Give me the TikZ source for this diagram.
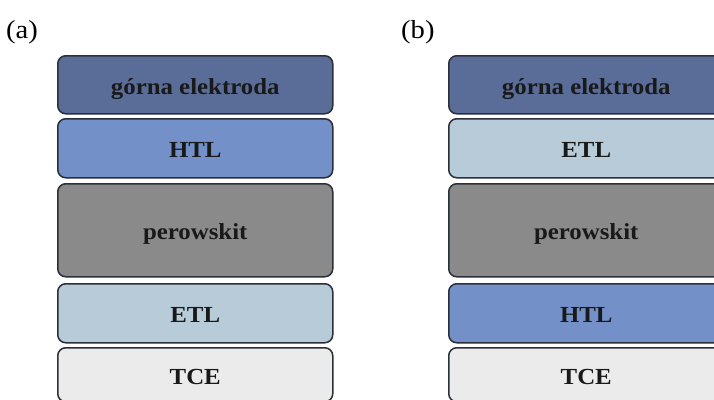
\documentclass[tikz,border=0pt]{standalone}
\usepackage{fontspec}
\setmainfont{Liberation Serif}
\newfontfamily\layerfont[FakeStretch=1.08]{Liberation Serif Bold}
\newfontfamily\labfont[FakeStretch=1.1]{Liberation Serif}
\definecolor{electrode}{HTML}{5A6D99}
\definecolor{htl}{HTML}{7390C9}
\definecolor{perov}{HTML}{8A8A8A}
\definecolor{etl}{HTML}{B7CBD9}
\definecolor{tce}{HTML}{EBEBEB}
\definecolor{edge}{HTML}{2B2F38}
\begin{document}
\begin{tikzpicture}[x=1pt,y=-1pt,
  layer/.style={draw=edge, line width=1.5pt, rounded corners=8pt, anchor=north west,
    minimum width=275pt, inner sep=0pt, text height=19pt, text depth=0pt,
    font=\layerfont\fontsize{23}{26}\selectfont, text=black!90},
  panellabel/.style={anchor=base west, inner sep=0pt, font=\labfont\fontsize{26}{30}\selectfont}]
\useasboundingbox (0,0) rectangle (714,399);
\fill[white] (0,0) rectangle (714,399);
\clip (0,0) rectangle (714,399);
% panel (a)
\node[panellabel] (la) at (6,38) {(a)};
\node[layer, fill=electrode, minimum height=58pt] (a1) at (57,55) {górna elektroda};
\node[layer, fill=htl, minimum height=59pt] (a2) at (57,118) {HTL};
\node[layer, fill=perov, minimum height=93pt] (a3) at (57,183) {perowskit};
\node[layer, fill=etl, minimum height=59pt] (a4) at (57,283) {ETL};
\node[layer, fill=tce, minimum height=54pt] (a5) at (57,347) {TCE};
% panel (b)
\node[panellabel] (lb) at (401,38) {(b)};
\node[layer, fill=electrode, minimum height=58pt] (b1) at (448,55) {górna elektroda};
\node[layer, fill=etl, minimum height=59pt] (b2) at (448,118) {ETL};
\node[layer, fill=perov, minimum height=93pt] (b3) at (448,183) {perowskit};
\node[layer, fill=htl, minimum height=59pt] (b4) at (448,283) {HTL};
\node[layer, fill=tce, minimum height=54pt] (b5) at (448,347) {TCE};
\end{tikzpicture}
\end{document}
